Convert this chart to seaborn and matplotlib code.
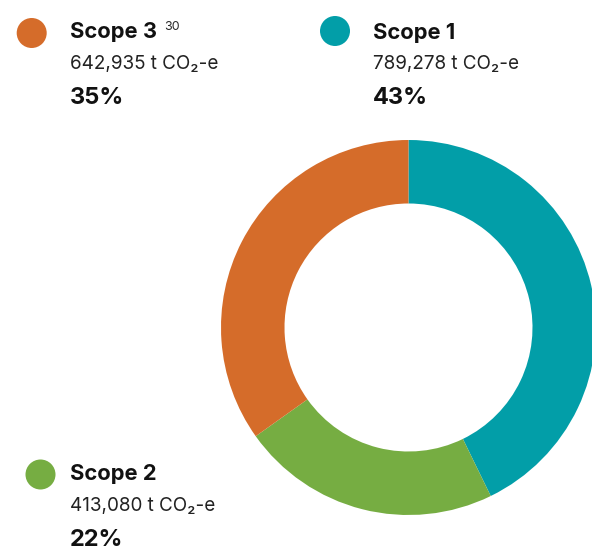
import matplotlib
matplotlib.use("Agg")
import matplotlib.pyplot as plt
from matplotlib.patches import Circle
import seaborn as sns

# ---- data ----
scopes = ["Scope 1", "Scope 2", "Scope 3"]
emissions = [789278, 413080, 642935]
value_labels = ["789,278 t CO\u2082-e", "413,080 t CO\u2082-e", "642,935 t CO\u2082-e"]
pct_labels = ["43%", "22%", "35%"]
footnotes = ["", "", "30"]
colors = sns.color_palette(["#029EA8", "#76AD42", "#D56C2A"])

sns.set_theme(style="white")
plt.rcParams["font.family"] = ["Inter", "DejaVu Sans"]

W, H = 592, 547
fig = plt.figure(figsize=(W / 100, H / 100), dpi=100)
fig.patch.set_facecolor("white")
ax = fig.add_axes([0, 0, 1, 1])

cx, cy, R, ring = 408.5, H - 327.5, 187.5, 63.5
ax.pie(emissions, colors=colors, startangle=90, counterclock=False,
       center=(cx, cy), radius=R,
       wedgeprops=dict(width=ring, edgecolor="none", linewidth=0))
ax.set_xlim(0, W)
ax.set_ylim(0, H)
ax.set_aspect("equal")
ax.axis("off")

# legend blocks in pixels from top-left:
# (dot x, dot y, text x, title baseline, value baseline, pct baseline)
legend_pos = {
    "Scope 1": (335, 31, 373, 39, 69.5, 104),
    "Scope 2": (40.5, 474.5, 70, 480, 510.5, 546.5),
    "Scope 3": (31.7, 33, 70, 38.5, 69, 103.5),
}

for i, name in enumerate(scopes):
    dx, dy, tx, tb, vb, pb = legend_pos[name]
    ax.add_patch(Circle((dx, H - dy), 15, color=colors[i], lw=0))
    ax.text(tx, H - tb, name, fontsize=15.8, fontweight="bold",
            color="#111111", va="baseline", ha="left")
    if footnotes[i]:
        ax.text(tx + 94, H - tb + 8, footnotes[i], fontsize=9,
                fontweight="normal", color="#2a2a2a", va="baseline", ha="left")
    ax.text(tx, H - vb, value_labels[i], fontsize=13.6,
            color="#222222", va="baseline", ha="left")
    ax.text(tx, H - pb, pct_labels[i], fontsize=17, fontweight="bold",
            color="#111111", va="baseline", ha="left")

fig.savefig("out.png", dpi=100, facecolor="white")
